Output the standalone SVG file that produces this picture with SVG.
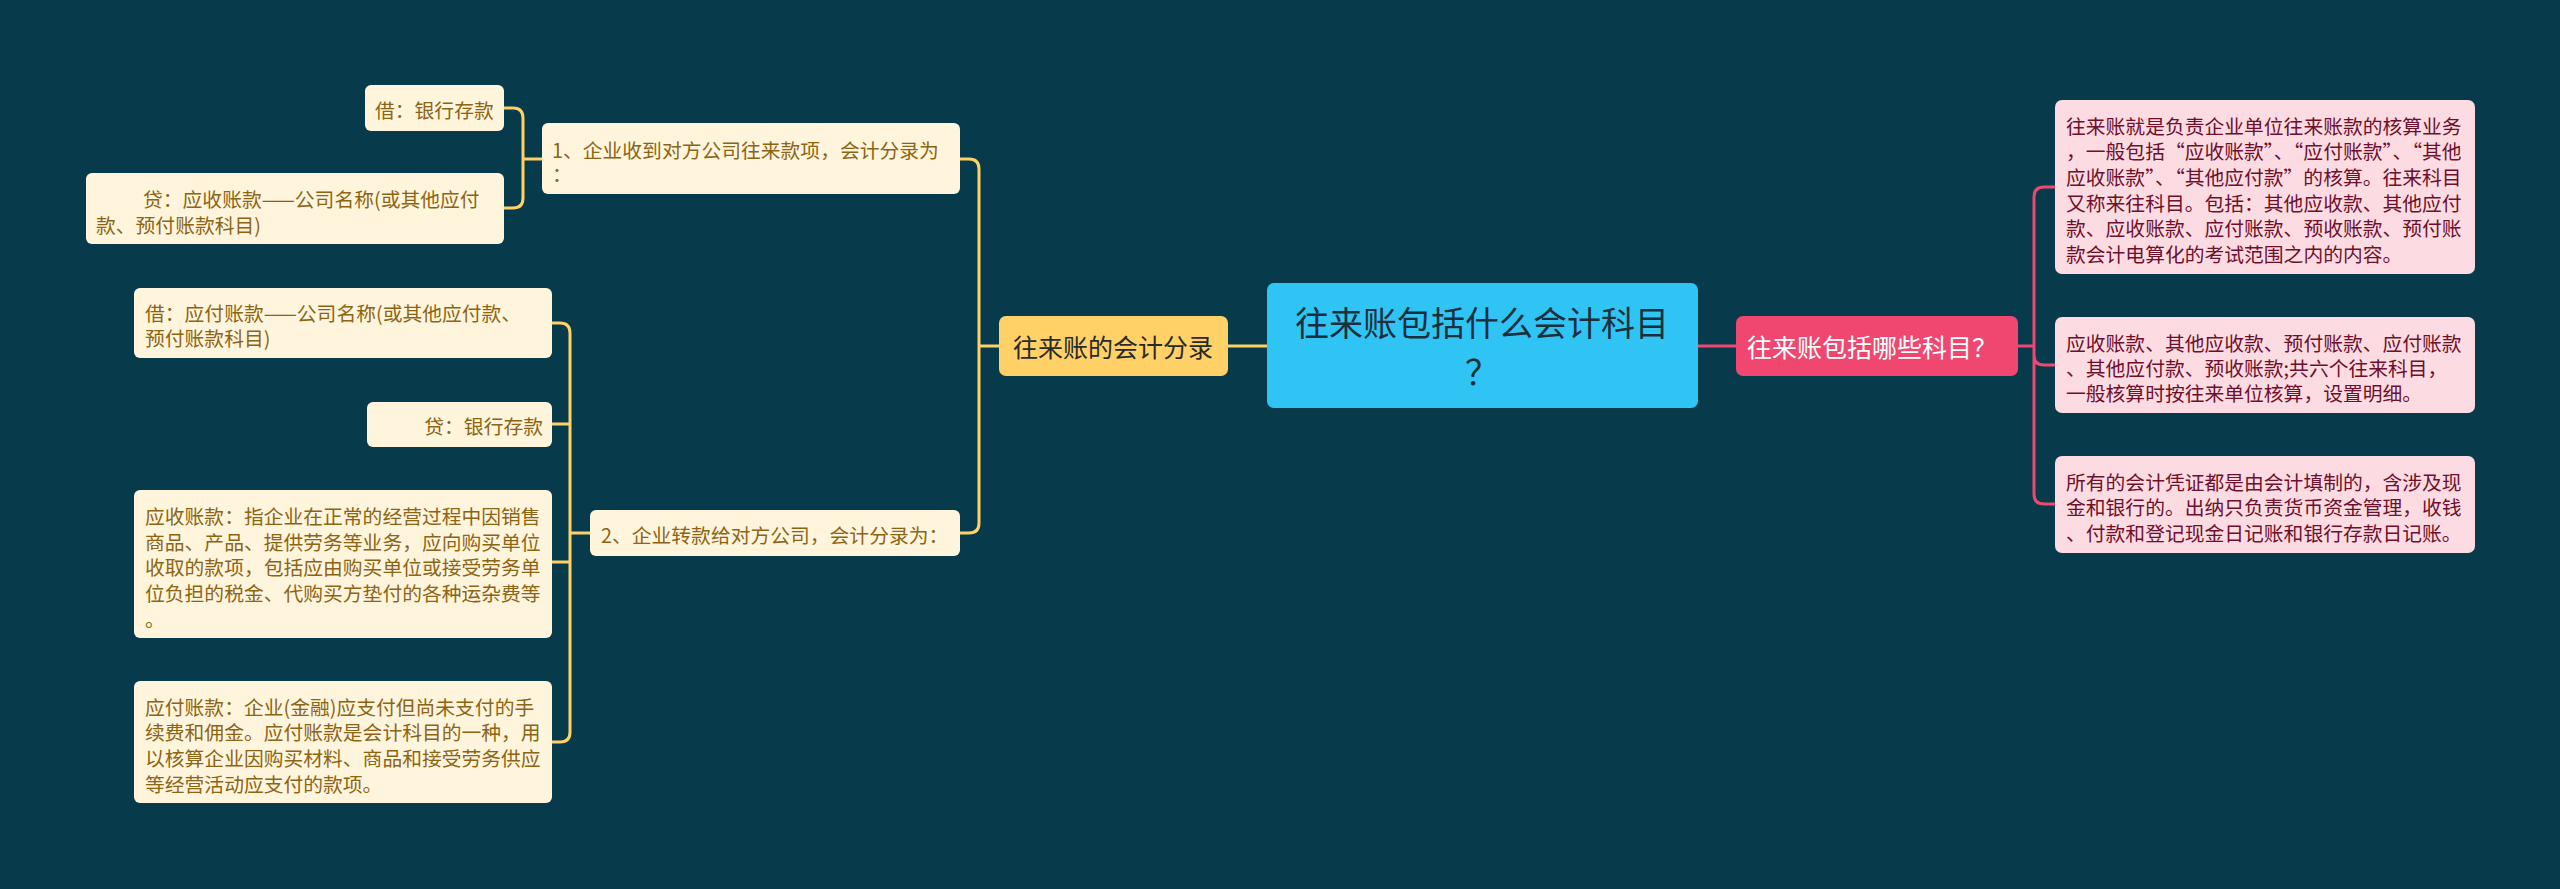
<svg xmlns="http://www.w3.org/2000/svg" width="2560" height="889" viewBox="0 0 2560 889">
<style>
text{font-family:"Noto Sans CJK SC","Noto Sans",sans-serif;dominant-baseline:central}
.bg{fill:#073b4c}
.leafL{fill:#fff5dc}
.leafL text,.tL{fill:#8d6414;font-size:19.8px}
.leafR{fill:#fddbe2}
.tR{fill:#6e0f2b;font-size:19.8px}
.cy{fill:none;stroke:#ffd166;stroke-width:3}
.cp{fill:none;stroke:#ef476f;stroke-width:3}
</style>
<rect class="bg" x="0" y="0" width="2560" height="889"/>
<g id="connectors">
<path class="cy" d="M1267 346H1228"/>
<path class="cy" d="M999 346H979V169Q979 159 969 159H960M979 346V523Q979 533 969 533H960"/>
<path class="cy" d="M542 159H523V118Q523 108 513 108H504M523 159V198Q523 208 513 208H504"/>
<path class="cy" d="M590 533H570V333Q570 323 560 323H552M570 424V414M570 424Q570 424 560 424H552M570 533V732Q570 742 560 742H552M570 562Q570 562 560 562H552"/>
<path class="cp" d="M1698 346H1736"/>
<path class="cp" d="M2018 346H2034V197Q2034 187 2044 187H2055M2034 346V494Q2034 504 2044 504H2055M2034 346V355Q2034 365 2044 365H2055"/>
</g>
<g id="root">
<rect x="1267" y="283" width="431" height="125" rx="7" fill="#2fc4f4"/>
<text text-anchor="middle" font-size="34" fill="#1b2f3c"><tspan x="1482" y="321">往来账包括什么会计科目</tspan><tspan x="1482" y="370">？</tspan></text>
</g>
<g id="branch-left">
<rect x="999" y="316" width="229" height="60" rx="7" fill="#ffd166"/>
<text x="1113" y="346" text-anchor="middle" font-size="25" fill="#2a2a2a">往来账的会计分录</text>
</g>
<g id="branch-right">
<rect x="1736" y="316" width="282" height="60" rx="7" fill="#ef476f"/>
<text x="1872" y="346" text-anchor="middle" font-size="25" fill="#ffffff">往来账包括哪些科目？</text>
</g>
<g id="n1">
<rect class="leafL" x="542" y="123" width="418" height="71" rx="6"/>
<text class="tL" x="552" y="149">1、企业收到对方公司往来款项，会计分录为</text>
<text class="tL" x="552" y="173">：</text>
</g>
<g id="n1a">
<rect class="leafL" x="365" y="85" width="139" height="46" rx="6"/>
<text class="tL" x="375" y="109">借：银行存款</text>
</g>
<g id="n1b">
<rect class="leafL" x="86" y="173" width="418" height="71" rx="6"/>
<text class="tL" x="143" y="198">贷：应收账款——公司名称(或其他应付</text>
<text class="tL" x="96" y="224">款、预付账款科目)</text>
</g>
<g id="n2">
<rect class="leafL" x="590" y="510" width="370" height="46" rx="6"/>
<text class="tL" x="601" y="534">2、企业转款给对方公司，会计分录为：</text>
</g>
<g id="n2a">
<rect class="leafL" x="134" y="288" width="418" height="70" rx="6"/>
<text class="tL" x="145" y="312">借：应付账款——公司名称(或其他应付款、</text>
<text class="tL" x="145" y="337">预付账款科目)</text>
</g>
<g id="n2b">
<rect class="leafL" x="367" y="402" width="185" height="45" rx="6"/>
<text class="tL" x="543" y="425" text-anchor="end">贷：银行存款</text>
</g>
<g id="n2c">
<rect class="leafL" x="134" y="490" width="418" height="148" rx="6"/>
<text class="tL" x="145" y="515">应收账款：指企业在正常的经营过程中因销售</text>
<text class="tL" x="145" y="541">商品、产品、提供劳务等业务，应向购买单位</text>
<text class="tL" x="145" y="566">收取的款项，包括应由购买单位或接受劳务单</text>
<text class="tL" x="145" y="592">位负担的税金、代购买方垫付的各种运杂费等</text>
<text class="tL" x="145" y="618">。</text>
</g>
<g id="n2d">
<rect class="leafL" x="134" y="681" width="418" height="122" rx="6"/>
<text class="tL" x="145" y="706">应付账款：企业(金融)应支付但尚未支付的手</text>
<text class="tL" x="145" y="731">续费和佣金。应付账款是会计科目的一种，用</text>
<text class="tL" x="145" y="757">以核算企业因购买材料、商品和接受劳务供应</text>
<text class="tL" x="145" y="783">等经营活动应支付的款项。</text>
</g>
<g id="r1">
<rect class="leafR" x="2055" y="100" width="420" height="174" rx="7"/>
<text class="tR" x="2066" y="125">往来账就是负责企业单位往来账款的核算业务</text>
<text class="tR" x="2066" y="150.6">，一般包括“应收账款”、“应付账款”、“其他</text>
<text class="tR" x="2066" y="176">应收账款”、“其他应付款”的核算。往来科目</text>
<text class="tR" x="2066" y="202">又称来往科目。包括：其他应收款、其他应付</text>
<text class="tR" x="2066" y="227">款、应收账款、应付账款、预收账款、预付账</text>
<text class="tR" x="2066" y="253">款会计电算化的考试范围之内的内容。</text>
</g>
<g id="r2">
<rect class="leafR" x="2055" y="317" width="420" height="96" rx="7"/>
<text class="tR" x="2066" y="342">应收账款、其他应收款、预付账款、应付账款</text>
<text class="tR" x="2066" y="367">、其他应付款、预收账款;共六个往来科目，</text>
<text class="tR" x="2066" y="392">一般核算时按往来单位核算，设置明细。</text>
</g>
<g id="r3">
<rect class="leafR" x="2055" y="456" width="420" height="97" rx="7"/>
<text class="tR" x="2066" y="481">所有的会计凭证都是由会计填制的，含涉及现</text>
<text class="tR" x="2066" y="506">金和银行的。出纳只负责货币资金管理，收钱</text>
<text class="tR" x="2066" y="532">、付款和登记现金日记账和银行存款日记账。</text>
</g>
</svg>
